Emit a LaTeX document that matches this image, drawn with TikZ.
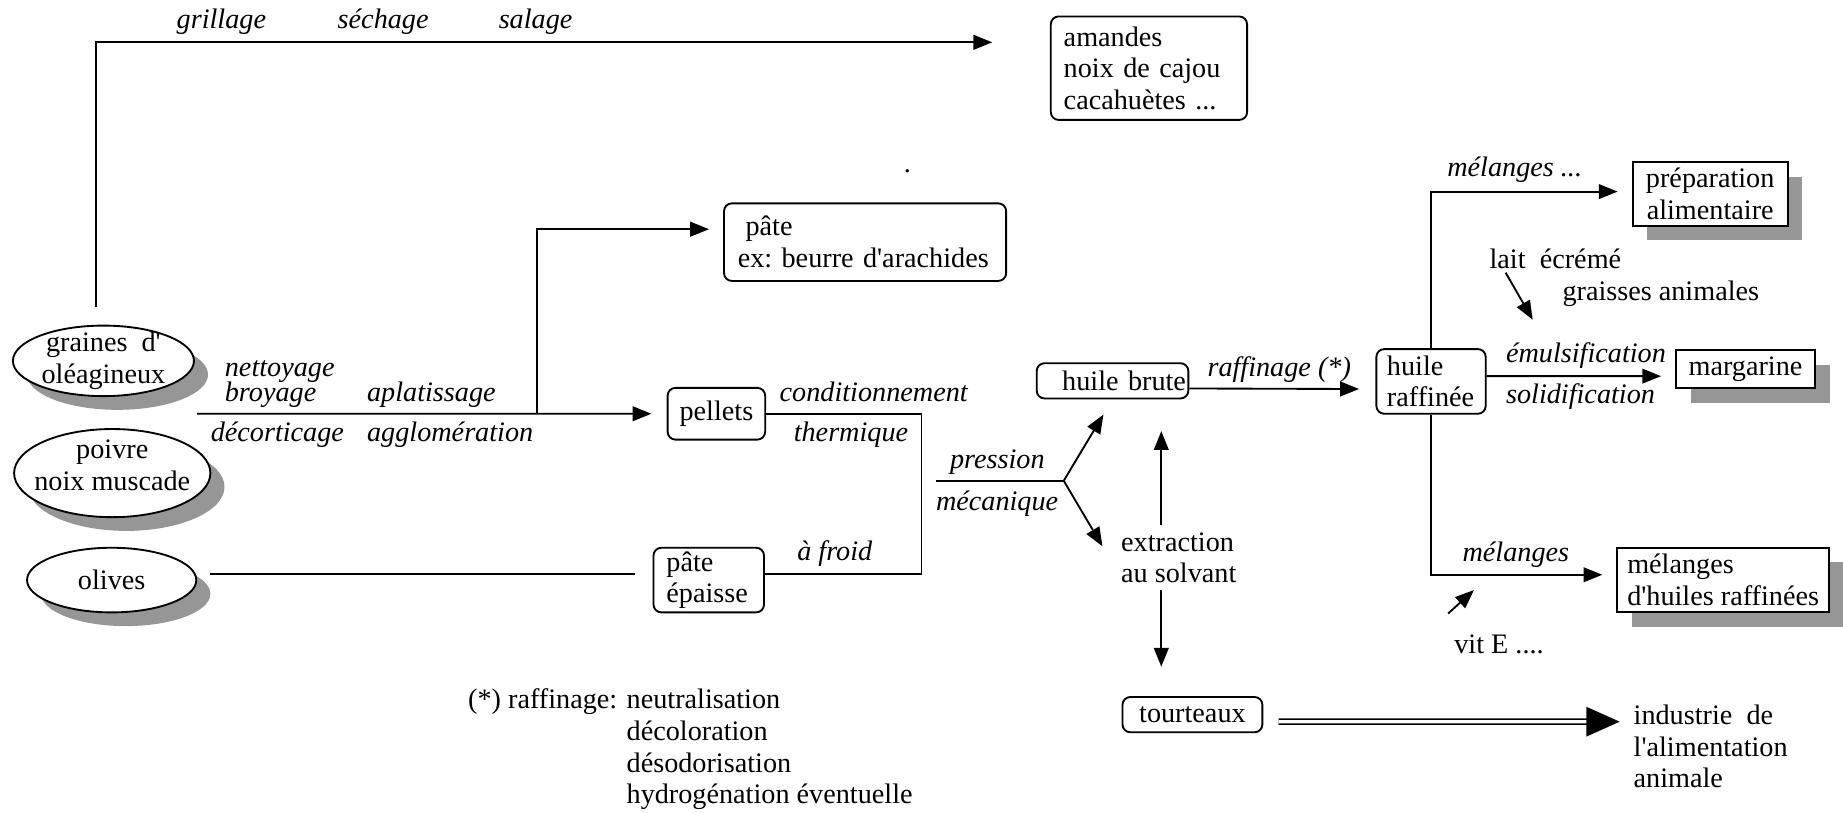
\documentclass[tikz,border=0pt]{standalone}
\usepackage{fontspec}
\setmainfont{Liberation Serif}
\usetikzlibrary{shapes.geometric, arrows.meta, positioning, shadows}
\definecolor{shadowgray}{RGB}{150,150,150}
\definecolor{inkdark}{RGB}{0,0,0}
\newcommand{\apos}{\textquotesingle}

\begin{document}
\begin{tikzpicture}[
    x=0.6pt, y=-0.6pt,
    every node/.style={font=\fontsize{14.4}{16.2}\selectfont, text=inkdark},
    roundbox/.style={rectangle, draw=inkdark, rounded corners=4pt, fill=white, line width=0.95pt, inner sep=0pt, align=left},
    shadebox/.style={rectangle, draw=inkdark, fill=white, line width=0.95pt, inner sep=0pt, align=center,
        general shadow={fill=shadowgray, shadow xshift=7.5pt, shadow yshift=-7.5pt}},
    seed/.style={ellipse, draw=inkdark, fill=white, line width=0.95pt, inner sep=0pt,
        general shadow={fill=shadowgray, shadow xshift=7.2pt, shadow yshift=-7pt}},
    proc/.style={font=\fontsize{14.4}{16.2}\selectfont\itshape, anchor=base west, inner sep=0pt},
    line/.style={line width=0.95pt, color=inkdark},
    arrow/.style={-{Triangle[length=9.6pt, width=7.5pt]}, line width=0.95pt, color=inkdark},
    dblarrow/.style={-{Triangle[length=17pt, width=15pt]}, double=white, double distance=1.6pt, line width=0.85pt, color=inkdark},
]
\useasboundingbox (0,0) rectangle (1568,691);

% Raw materials
\node[seed, minimum width=92.4pt, minimum height=36pt, label={[align=center]center:graines\ \ d\apos\\oléagineux}] (graines) at (88,307) {};
\node[seed, minimum width=100.2pt, minimum height=45pt, label={[align=center, yshift=4pt]center:poivre\\noix muscade}] (poivre) at (95.5,402.5) {};
\node[seed, minimum width=86.4pt, minimum height=33pt, label={center:olives}] (olives) at (95,493.5) {};

% Products
\node[roundbox, minimum width=100.2pt, minimum height=52.8pt, text width=87pt] (amandes) at (977.5,58) {amandes\\noix de cajou\\cacahuètes ...};
\node[roundbox, minimum width=144pt, minimum height=39.6pt, text width=130pt] (pate) at (736,206) {\hspace*{4pt}pâte\\ex:\ beurre d\apos arachides};
\node[roundbox, minimum width=49.8pt, minimum height=26.4pt, align=center] (pellets) at (609.5,352) {pellets};
\node[roundbox, minimum width=56.4pt, minimum height=33pt, text width=43.2pt] (pateep) at (603,493.5) {pâte\\épaisse};
\node[roundbox, minimum width=77.4pt, minimum height=18pt, text width=75pt, align=right] (brute) at (946.5,324) {huile brute};
\node[roundbox, minimum width=71.4pt, minimum height=18pt, align=center] (tourteaux) at (1014.5,608) {tourteaux};
\node[roundbox, minimum width=55.8pt, minimum height=33pt, text width=45pt] (raffinee) at (1217.5,324.5) {huile\\raffinée};
\node[shadebox, minimum width=79.2pt, minimum height=32.4pt] (prep) at (1455,165) {préparation\\alimentaire};
\node[shadebox, minimum width=70.8pt, minimum height=19.2pt] (margarine) at (1485,314) {margarine};
\node[shadebox, minimum width=108pt, minimum height=33pt, align=left] (melhuiles) at (1466,493.5) {mélanges\\d\apos huiles raffinées};

\node[anchor=west, align=left] (extraction) at (948,474.5) {extraction\\au solvant};
\node[anchor=west, align=left] (industrie) at (1384,635) {industrie\ \ de\\l\apos alimentation\\animale};
\node[anchor=base west, inner sep=0pt] (lait) at (1267,228) {lait\ \ écrémé};
\node[anchor=base west, inner sep=0pt] (graisses) at (1329,256) {graisses animales};
\node[anchor=base west, inner sep=0pt] (vite) at (1237,556) {vit E ....};
\node[inner sep=0pt] (dot) at (772,146) {.};

% Process labels
\node[proc] (grillage) at (150,24) {grillage};
\node[proc] (sechage) at (287,24) {séchage};
\node[proc] (salage) at (424,24) {salage};
\node[proc] (nettoyage) at (191,320) {nettoyage};
\node[proc] (broyage) at (191,342) {broyage};
\node[proc] (aplatissage) at (312,342) {aplatissage};
\node[proc] (decorticage) at (179,376) {décorticage};
\node[proc] (agglomeration) at (312,376) {agglomération};
\node[proc] (condition) at (663,342) {conditionnement};
\node[proc] (thermique) at (675,376) {thermique};
\node[proc] (froid) at (678,477) {à froid};
\node[proc] (pression) at (808,399) {pression};
\node[proc] (mecanique) at (796,434) {mécanique};
\node[proc] (raffinage) at (1027,320) {raffinage (*)};
\node[proc] (melprep) at (1231,150) {mélanges ...};
\node[proc] (emulsion) at (1281,308) {émulsification};
\node[proc] (solid) at (1281,343) {solidification};
\node[proc] (melange) at (1244,478) {mélanges};

% Footnote
\node[anchor=base west, inner sep=0pt] (note) at (398,603) {\begin{tabular}[t]{@{}l@{ }l@{}}(*) raffinage: & neutralisation\\ & décoloration\\ & désodorisation\\ & hydrogénation éventuelle\end{tabular}};

% Connectors
\coordinate (fork) at (457,352);
\coordinate (bend) at (784,420);
\coordinate (pressin) at (796,409);
\coordinate (press) at (905,409);
\coordinate (vx) at (988,400);
\coordinate (laittip) at (1304,272);
\coordinate (vittip) at (1254,502);

\draw[arrow] ([xshift=-3.6pt,yshift=9pt]graines.north) |- ([xshift=-29.4pt,yshift=13.2pt]amandes.west);
\draw[arrow, shorten >=7.8pt] ([xshift=1.2pt,yshift=-27pt]graines.east) -- (pellets.west);
\draw[arrow, shorten >=7.2pt] (fork) |- ([yshift=6.6pt]pate.west);
\draw[line] (pellets.east) -| (bend) |- ([yshift=3.3pt]pateep.east);
\draw[line] ([xshift=6.6pt,yshift=3.3pt]olives.east) -- ([xshift=-9pt,yshift=3.3pt]pateep.west);
\draw[line] (pressin) -- (press);
\draw[arrow, shorten >=9pt] (press) -- (brute.south);
\draw[arrow, shorten >=11.9pt] (press) -- ([yshift=-4.4pt]extraction.west);
\draw[arrow, shorten >=16.2pt] (extraction.north -| vx) -- (brute.south -| vx);
\draw[arrow, shorten >=15pt] (extraction.south -| vx) -- (tourteaux.north -| vx);
\draw[dblarrow] ([xshift=7.8pt,yshift=-3.6pt]tourteaux.east) -- ([xshift=-3.6pt,yshift=12.6pt]industrie.west);
\draw[arrow, shorten >=8.4pt] ([yshift=-3.9pt]brute.east) -- ([yshift=-3.9pt]raffinee.west);
\draw[arrow, shorten >=7.2pt] (raffinee.north) |- ([yshift=1.2pt]prep.west);
\draw[arrow, shorten >=7.2pt] ([yshift=2.7pt]raffinee.east) -- ([yshift=-3.6pt]margarine.west);
\draw[arrow, shorten >=7.2pt] (raffinee.south) |- ([yshift=2.7pt]melhuiles.west);
\draw[arrow] ([xshift=8.4pt,yshift=-2.4pt]lait.base west) -- (laittip);
\draw[arrow] ([xshift=-3pt,yshift=20.4pt]vite.base west) -- (vittip);

\end{tikzpicture}
\end{document}
